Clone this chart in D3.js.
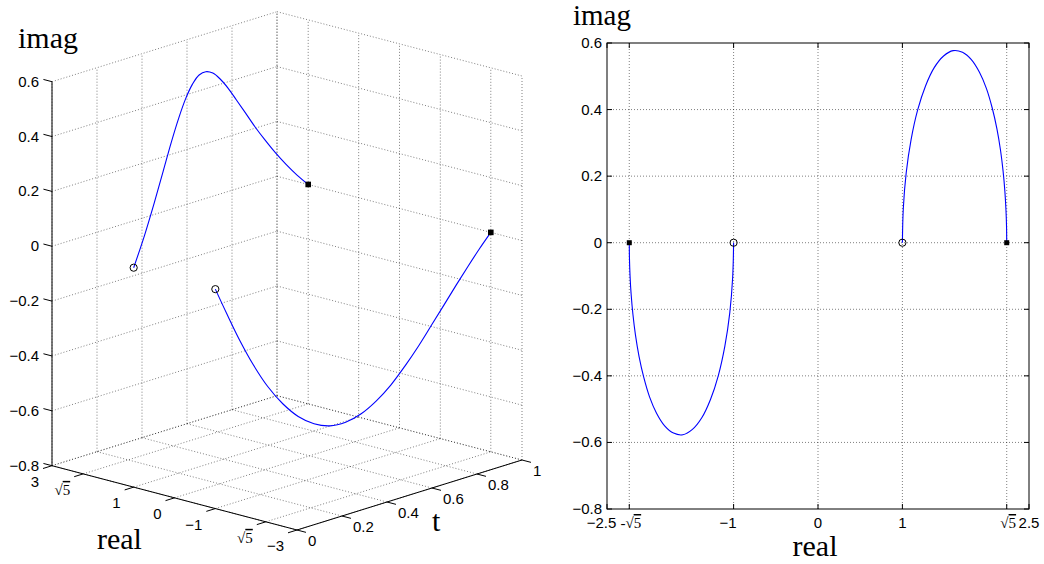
<!DOCTYPE html>
<html>
<head>
<meta charset="utf-8">
<script src="https://cdn.jsdelivr.net/npm/d3@7"></script>
<style>
body { margin: 0; background: #fff; }
text { font-family: "Liberation Sans", Arial, sans-serif; font-size: 15px; fill: #000; }
.lab { font-family: "Liberation Serif", "Times New Roman", serif; font-size: 30px; }
.grid { stroke: #000; stroke-opacity: .5; stroke-dasharray: 1,2; fill: none; }
.axis { stroke: #000; stroke-width: 1; fill: none; }
</style>
</head>
<body>
<svg width="1044" height="564"></svg>
<script>
// path parameter and the two root branches
var tVals = [0, .05, .1, .15, .2, .25, .3, .35, .4, .45, .5, .55, .6, .65, .7, .75, .8, .85, .9, .95, 1];
var rightRe = [1.000, 1.011, 1.045, 1.103, 1.181, 1.274, 1.377, 1.488, 1.601, 1.712, 1.817, 1.913, 1.996, 2.065, 2.120, 2.163, 2.193, 2.214, 2.227, 2.234, 2.236];
var rightIm = [0, .104, .210, .310, .399, .471, .526, .561, .577, .572, .550, .512, .463, .404, .342, .277, .215, .155, .099, .047, 0];
var leftRe = [-1.000, -1.011, -1.045, -1.103, -1.181, -1.274, -1.377, -1.488, -1.601, -1.712, -1.817, -1.913, -1.996, -2.065, -2.120, -2.163, -2.193, -2.214, -2.227, -2.234, -2.236];
var leftIm = [0, -.104, -.210, -.310, -.399, -.471, -.526, -.561, -.577, -.572, -.550, -.512, -.463, -.404, -.342, -.277, -.215, -.155, -.099, -.047, 0];

// ticks
var r5 = Math.sqrt(5);
var realTicks3d = [3, r5, 1, 0, -1, -r5, -3];
var realLabels3d = ["3", "sqrt", "1", "0", "−1", "sqrt", "−3"];
var tTicks = [0, .2, .4, .6, .8, 1];
var tLabels = ["0", "0.2", "0.4", "0.6", "0.8", "1"];
var imTicks = [-.8, -.6, -.4, -.2, 0, .2, .4, .6];
var imLabels = ["−0.8", "−0.6", "−0.4", "−0.2", "0", "0.2", "0.4", "0.6"];
var realTicks2d = [-2.5, -r5, -1, 0, 1, r5, 2.5];
var realLabels2d = ["−2.5", "−sqrt", "−1", "0", "1", "sqrt", "2.5"];

var svg = d3.select("svg");

function rootSeries(re, im) {
    return tVals.map(function(t, i) { return {t: t, re: re[i], im: im[i]}; });
}
var branches = [rootSeries(rightRe, rightIm), rootSeries(leftRe, leftIm)];

function addLabel(sel, s) {
    var neg = s.charAt(0) == "−";
    var body = neg ? s.slice(1) : s;
    if (body == "sqrt") {
        if (neg) sel.append("tspan").style("font-family", "'Liberation Serif',serif").text("-");
        sel.append("tspan").style("font-family", "'Liberation Serif',serif").style("font-size", "15px").text("√");
        sel.append("tspan").style("font-family", "'Liberation Serif',serif").style("font-size", "15px")
            .style("text-decoration", "overline").text("5");
    } else {
        sel.text(s);
    }
}

// ---------- 3D view (left) ----------
var reX = d3.scaleLinear().domain([3, -3]).range([0, 245]),
    reY = d3.scaleLinear().domain([3, -3]).range([0, 64.3]),
    tX = d3.scaleLinear().domain([0, 1]).range([0, 225]),
    tY = d3.scaleLinear().domain([0, 1]).range([0, -70]),
    imY = d3.scaleLinear().domain([-.8, .6]).range([0, -384]);
var ox = 52, oy = 465.7;

function proj(re, t, im) {
    return [ox + reX(re) + tX(t), oy + reY(re) + tY(t) + imY(im)];
}

var g3 = svg.append("g");
var gridSegs = [];
realTicks3d.forEach(function(r) {
    gridSegs.push([proj(r, 1, -.8), proj(r, 1, .6)]);
    gridSegs.push([proj(r, 0, -.8), proj(r, 1, -.8)]);
});
imTicks.forEach(function(i) {
    gridSegs.push([proj(3, 1, i), proj(-3, 1, i)]);
    gridSegs.push([proj(3, 0, i), proj(3, 1, i)]);
});
tTicks.forEach(function(t) {
    gridSegs.push([proj(3, t, -.8), proj(3, t, .6)]);
    gridSegs.push([proj(3, t, -.8), proj(-3, t, -.8)]);
});
g3.selectAll("line.grid").data(gridSegs).enter().append("line")
    .attr("class", "grid")
    .attr("x1", function(d) { return d[0][0]; }).attr("y1", function(d) { return d[0][1]; })
    .attr("x2", function(d) { return d[1][0]; }).attr("y2", function(d) { return d[1][1]; });

var axSegs = [
    [proj(3, 0, -.8), proj(3, 0, .6)],
    [proj(3, 0, -.8), proj(-3, 0, -.8)],
    [proj(-3, 0, -.8), proj(-3, 1, -.8)]
];
imTicks.forEach(function(i) { axSegs.push([proj(3, 0, i), proj(3.21, 0, i)]); });
realTicks3d.forEach(function(r) { axSegs.push([proj(r, 0, -.8), proj(r, -.04, -.8)]); });
tTicks.forEach(function(t) { axSegs.push([proj(-3, t, -.8), proj(-3.22, t, -.8)]); });
g3.selectAll("line.axis").data(axSegs).enter().append("line")
    .attr("class", "axis")
    .attr("x1", function(d) { return d[0][0]; }).attr("y1", function(d) { return d[0][1]; })
    .attr("x2", function(d) { return d[1][0]; }).attr("y2", function(d) { return d[1][1]; });

imTicks.forEach(function(v, i) {
    var p = proj(3, 0, v);
    g3.append("text").attr("x", 39).attr("y", p[1] + 5).attr("text-anchor", "end").call(addLabel, imLabels[i]);
});
realTicks3d.forEach(function(v, i) {
    var p = proj(v, 0, -.8);
    g3.append("text").attr("x", p[0] - 13).attr("y", p[1] + 21).attr("text-anchor", "end").call(addLabel, realLabels3d[i]);
});
tTicks.forEach(function(v, i) {
    var p = proj(-3, v, -.8);
    g3.append("text").attr("x", p[0] + 11).attr("y", p[1] + 16).call(addLabel, tLabels[i]);
});

var line3 = d3.line()
    .x(function(d) { return proj(d.re, d.t, d.im)[0]; })
    .y(function(d) { return proj(d.re, d.t, d.im)[1]; })
    .curve(d3.curveCatmullRom);
g3.selectAll("path.root").data(branches).enter().append("path")
    .attr("d", line3).attr("fill", "none").attr("stroke", "#0000ff").attr("stroke-width", 1.1);

branches.forEach(function(b) {
    var s = b[0], e = b[b.length - 1];
    var ps = proj(s.re, s.t, s.im), pe = proj(e.re, e.t, e.im);
    g3.append("circle").attr("cx", ps[0]).attr("cy", ps[1]).attr("r", 3.6)
        .attr("fill", "none").attr("stroke", "#000").attr("stroke-width", 1);
    g3.append("rect").attr("x", pe[0] - 2.8).attr("y", pe[1] - 2.8).attr("width", 5.6).attr("height", 5.6).attr("fill", "#000");
});

g3.append("text").attr("class", "lab").attr("x", 18).attr("y", 48).text("imag");
g3.append("text").attr("class", "lab").attr("x", 97).attr("y", 549).text("real");
g3.append("text").attr("class", "lab").attr("x", 432).attr("y", 531).text("t");

// ---------- complex plane (right) ----------
var x = d3.scaleLinear().domain([-2.5, 2.5]).range([607, 1029]),
    y = d3.scaleLinear().domain([-.8, .6]).range([509, 43]);
var g2 = svg.append("g");

realTicks2d.slice(1, -1).forEach(function(v) {
    g2.append("line").attr("class", "grid").attr("x1", x(v)).attr("x2", x(v)).attr("y1", y(.6)).attr("y2", y(-.8));
});
imTicks.slice(1, -1).forEach(function(v) {
    g2.append("line").attr("class", "grid").attr("y1", y(v)).attr("y2", y(v)).attr("x1", x(-2.5)).attr("x2", x(2.5));
});

realTicks2d.forEach(function(v, i) {
    g2.append("line").attr("class", "axis").attr("x1", x(v)).attr("x2", x(v)).attr("y1", y(-.8)).attr("y2", y(-.8) - 5);
    g2.append("line").attr("class", "axis").attr("x1", x(v)).attr("x2", x(v)).attr("y1", y(.6)).attr("y2", y(.6) + 5);
    var lab = realLabels2d[i];
    var shift = lab.indexOf("sqrt") >= 0 ? 1.5 : (lab.charAt(0) == "−" ? -5.5 : 0);
    g2.append("text").attr("x", x(v) + shift).attr("y", y(-.8) + 19).attr("text-anchor", "middle")
        .call(addLabel, lab);
});
imTicks.forEach(function(v, i) {
    g2.append("line").attr("class", "axis").attr("y1", y(v)).attr("y2", y(v)).attr("x1", x(-2.5)).attr("x2", x(-2.5) + 5);
    g2.append("line").attr("class", "axis").attr("y1", y(v)).attr("y2", y(v)).attr("x1", x(2.5)).attr("x2", x(2.5) - 5);
    g2.append("text").attr("x", x(-2.5) - 5).attr("y", y(v) + 5).attr("text-anchor", "end").call(addLabel, imLabels[i]);
});
g2.append("rect").attr("class", "axis").attr("x", x(-2.5)).attr("y", y(.6))
    .attr("width", x(2.5) - x(-2.5)).attr("height", y(-.8) - y(.6));

var line2 = d3.line()
    .x(function(d) { return x(d.re); })
    .y(function(d) { return y(d.im); })
    .curve(d3.curveCatmullRom);
g2.selectAll("path.root").data(branches).enter().append("path")
    .attr("d", line2).attr("fill", "none").attr("stroke", "#0000ff").attr("stroke-width", 1.1);

branches.forEach(function(b) {
    var s = b[0], e = b[b.length - 1];
    g2.append("circle").attr("cx", x(s.re)).attr("cy", y(s.im)).attr("r", 3.6)
        .attr("fill", "none").attr("stroke", "#000").attr("stroke-width", 1);
    g2.append("rect").attr("x", x(e.re) - 2.5).attr("y", y(e.im) - 2.5).attr("width", 5).attr("height", 5).attr("fill", "#000");
});

g2.append("text").attr("class", "lab").style("font-size", "29px").attr("x", 573).attr("y", 25).text("imag");
g2.append("text").attr("class", "lab").attr("x", 815).attr("y", 556).attr("text-anchor", "middle").text("real");
</script>
</body>
</html>
